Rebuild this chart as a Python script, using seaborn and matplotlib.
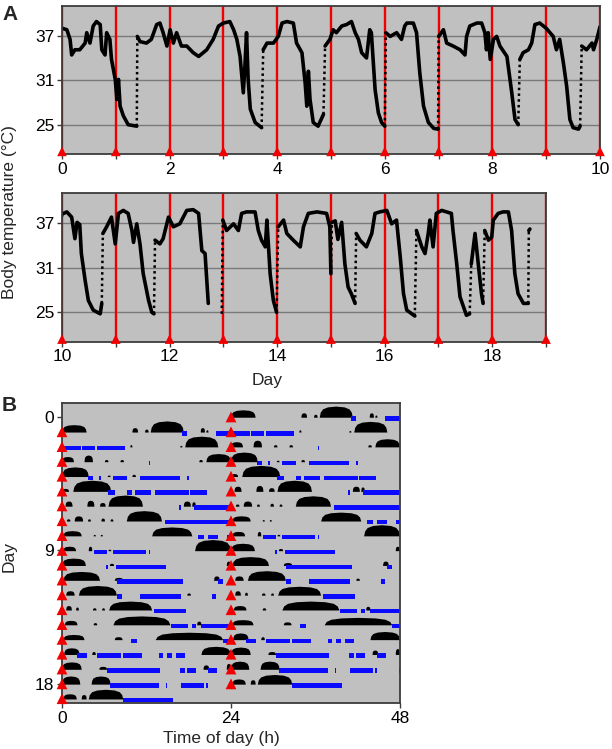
import numpy as np
import pandas as pd
import matplotlib
matplotlib.use("Agg")
import matplotlib.pyplot as plt
import seaborn as sns

# ---- panel A: body temperature trace (day, degC) ----
temp_day = [0.00, 0.09, 0.15, 0.18, 0.24, 0.33, 0.43, 0.46, 0.52, 0.58, 0.64, 0.71, 0.74, 0.80, 0.83, 0.89,
            0.92, 0.99, 1.02, 1.05, 1.08, 1.14, 1.23, 1.39, 1.40,
            1.45, 1.57, 1.66, 1.76, 1.82, 1.88, 1.95, 2.01, 2.07, 2.13, 2.22, 2.32, 2.44, 2.54, 2.69, 2.81,
            2.91, 3.00, 3.12, 3.19, 3.25, 3.31, 3.37, 3.40, 3.43, 3.46, 3.50, 3.59, 3.71, 3.74,
            3.81, 3.93, 4.02, 4.09, 4.18, 4.30, 4.36, 4.46, 4.52, 4.55, 4.58, 4.61, 4.67, 4.76, 4.86, 4.89,
            4.98, 5.04, 5.10, 5.20, 5.29, 5.38, 5.45, 5.51, 5.57, 5.66, 5.72, 5.75, 5.82, 5.88, 5.94, 6.00, 6.02,
            6.10, 6.22, 6.31, 6.37, 6.41, 6.53, 6.59, 6.65, 6.72, 6.81, 6.91, 6.99, 7.00,
            7.09, 7.15, 7.27, 7.40, 7.49, 7.52, 7.58, 7.71, 7.80, 7.86, 7.89, 7.92, 7.96, 8.02, 8.08, 8.14,
            8.27, 8.36, 8.42, 8.48, 8.51,
            8.57, 8.67, 8.73, 8.79, 8.88, 9.00, 9.13, 9.19, 9.25, 9.32, 9.38, 9.44, 9.50, 9.60, 9.63, 9.66,
            9.75, 9.85, 9.88, 9.94, 10.00,
            10.09, 10.18, 10.24, 10.28, 10.33, 10.36, 10.43, 10.49, 10.58, 10.71, 10.74, 10.76,
            10.83, 10.92, 10.99, 11.05, 11.14, 11.23, 11.30, 11.33, 11.39, 11.45, 11.51, 11.61, 11.67, 11.71, 11.73,
            11.82, 11.88, 11.98, 12.07, 12.19, 12.32, 12.44, 12.54, 12.60, 12.66, 12.72, 12.85, 12.97, 12.99,
            13.06, 13.19, 13.28, 13.34, 13.43, 13.59, 13.65, 13.71, 13.78, 13.81, 13.87, 13.93, 13.99, 14.02,
            14.12, 14.18, 14.30, 14.43, 14.49, 14.58, 14.74, 14.92, 14.98, 15.00, 15.02, 15.08, 15.13, 15.20,
            15.26, 15.32, 15.38, 15.45, 15.47,
            15.54, 15.66, 15.76, 15.82, 15.91, 16.04, 16.13, 16.22, 16.29, 16.35, 16.41, 16.56, 16.59,
            16.69, 16.75, 16.81, 16.84, 16.90, 16.96, 17.06, 17.15, 17.24, 17.27, 17.34, 17.40, 17.52, 17.58,
            17.61, 17.68, 17.74, 17.80, 17.83, 17.86,
            17.93, 17.99, 18.02, 18.11, 18.20, 18.30, 18.36, 18.42, 18.48, 18.58, 18.67, 18.68, 18.70]
temp_c = [38.0, 37.8, 36.5, 34.4, 35.1, 35.1, 36.0, 37.4, 36.0, 38.3, 38.9, 38.5, 35.1, 34.4, 37.4, 36.5,
          33.8, 31.1, 28.4, 31.1, 27.5, 26.2, 25.0, 24.8, 36.9,
          36.2, 36.0, 36.5, 38.5, 38.7, 37.4, 35.6, 37.8, 36.0, 37.4, 35.6, 35.6, 34.7, 34.2, 35.1, 36.5,
          38.3, 38.7, 38.9, 37.8, 36.5, 34.2, 29.3, 32.9, 37.4, 31.1, 27.1, 25.3, 24.6, 35.1,
          36.0, 36.0, 36.9, 38.7, 38.9, 38.7, 36.0, 34.7, 30.6, 27.5, 32.2, 28.4, 25.3, 24.8, 26.4, 35.6,
          36.5, 37.8, 37.4, 38.3, 38.5, 38.9, 37.4, 36.5, 34.7, 34.0, 37.8, 37.4, 29.7, 26.6, 25.3, 24.8, 37.4,
          36.9, 37.4, 36.5, 38.3, 38.7, 38.7, 37.4, 32.0, 27.5, 25.3, 24.5, 24.4, 36.9,
          37.8, 36.0, 35.6, 35.1, 34.4, 36.9, 38.3, 38.7, 38.7, 37.4, 35.1, 37.4, 33.8, 36.5, 36.9, 35.6,
          34.2, 29.3, 25.7, 25.0, 33.8,
          34.7, 35.1, 36.0, 38.5, 38.7, 38.0, 36.9, 35.1, 36.5, 33.3, 30.2, 25.7, 24.6, 24.4, 24.8, 35.6,
          35.1, 36.0, 35.1, 36.5, 38.2,
          38.5, 37.8, 34.9, 37.1, 36.8, 32.9, 29.3, 26.6, 25.3, 24.8, 26.2, 35.6,
          36.5, 37.8, 34.2, 38.3, 38.7, 38.3, 36.0, 34.4, 36.9, 34.2, 30.2, 26.6, 25.0, 24.8, 34.7,
          34.2, 34.9, 37.8, 36.5, 36.9, 38.7, 38.8, 38.3, 33.3, 32.9, 26.2, np.nan, 24.8, 37.4,
          36.0, 36.9, 36.0, 38.3, 38.5, 38.5, 36.0, 34.7, 33.8, 37.4, 30.2, 26.6, 25.0, 36.5,
          37.4, 35.6, 34.7, 33.8, 36.5, 38.3, 38.5, 38.3, 36.5, 30.2, 37.1, 37.3, 34.8, 37.1,
          31.5, 28.4, 27.5, 26.2, 35.6,
          34.7, 33.8, 35.6, 38.3, 38.5, 38.7, 36.9, 37.4, 32.4, 27.5, 25.3, 24.5, 36.0,
          33.8, 32.9, 35.6, 37.4, 33.8, 38.3, 38.7, 38.5, 38.3, 36.0, 31.5, 27.1, 24.6, 24.8,
          31.5, 35.6, 31.5, 27.5, 26.2, 36.0,
          34.7, 35.1, 37.4, 38.3, 38.5, 38.5, 36.0, 30.2, 27.5, 26.2, 26.2, 36.0, 36.2]
temp_ticks = [25, 31, 37]

# ---- panel B: activity bouts (day, start h, end h, relative height) ----
act_day = [0, 0, 0, 0, 0, 0,
           1, 1, 1,
           2, 2, 2, 2, 2, 2,
           3, 3, 3,
           4, 4,
           5, 5, 5, 5, 5, 5,
           6, 6, 6, 6, 6, 6,
           7, 7, 7, 7,
           8, 8, 8, 8,
           9, 9, 9,
           10, 10, 10,
           11, 11, 11,
           12, 12, 12, 12, 12,
           13, 13, 13, 13,
           14, 14, 14,
           15, 15, 15,
           16, 16, 16, 16,
           17, 17,
           18, 18, 18]
act_start = [0.0, 10.0, 11.8, 12.6, 19.7, 20.5,
             9.7, 16.8, 17.5,
             0.0, 3.2, 6.1, 8.3, 19.5, 20.5,
             0.0, 6.5, 10.0,
             0.0, 1.6,
             0.5, 3.6, 5.4, 6.6, 17.3, 18.5,
             0.7, 1.8, 3.7, 5.6, 6.9, 9.2,
             0.2, 4.5, 5.5, 12.8,
             0.2, 3.8, 6.6, 18.9,
             0.0, 6.8, 23.4,
             0.2, 7.5, 21.6,
             0.6, 2.4, 17.8,
             0.6, 2.0, 4.4, 5.7, 6.7,
             0.4, 4.5, 7.3, 19.2,
             0.2, 7.5, 13.3,
             0.3, 4.3, 19.8,
             0.0, 5.3, 20.1, 23.4,
             0.0, 4.2,
             0.2, 2.8, 3.8]
act_end = [3.5, 10.8, 12.3, 17.3, 20.3, 20.8,
           10.0, 17.1, 22.2,
           1.7, 4.4, 6.6, 8.8, 20.0, 24.0,
           3.8, 6.9, 10.5,
           1.0, 7.0,
           1.5, 4.6, 6.2, 11.5, 18.3, 19.0,
           1.2, 3.0, 4.1, 6.1, 7.3, 14.2,
           2.8, 4.8, 5.8, 18.5,
           2.0, 4.3, 7.0, 24.0,
           3.4, 7.4, 24.0,
           5.4, 8.7, 22.4,
           1.8, 7.8, 18.3,
           1.4, 2.4, 4.9, 6.1, 12.8,
           2.2, 5.0, 15.4, 19.8,
           3.2, 8.6, 22.9,
           2.5, 4.8, 24.0,
           2.8, 6.4, 20.9, 24.0,
           2.6, 6.9,
           2.1, 3.5, 8.7]
act_height = [0.5, 0.3, 0.2, 0.75, 0.3, 0.15,
              0.15, 0.1, 0.72,
              0.35, 0.45, 0.15, 0.15, 0.15, 0.55,
              0.65, 0.1, 0.15,
              0.2, 0.75,
              0.35, 0.4, 0.25, 0.75, 0.35, 0.3,
              0.15, 0.35, 0.15, 0.2, 0.15, 0.7,
              0.35, 0.1, 0.1, 0.6,
              0.3, 0.3, 0.1, 0.75,
              0.5, 0.15, 0.3,
              0.6, 0.2, 0.3,
              0.3, 0.65, 0.15,
              0.3, 0.2, 0.15, 0.15, 0.6,
              0.3, 0.15, 0.6, 0.25,
              0.35, 0.2, 0.5,
              0.45, 0.2, 0.55,
              0.5, 0.2, 0.3, 0.4,
              0.55, 0.55,
              0.35, 0.3, 0.65]

# ---- panel B: torpor bars (day, start h, end h) ----
torpor_day = [0, 0, 1, 1, 1, 2, 3, 3, 3, 3, 3, 4, 4, 4, 4, 4, 5, 5, 6, 7, 7, 7, 8, 8, 8, 9, 9,
              10, 10, 11, 11, 11, 12, 13, 13, 13, 14, 14, 15, 15, 15, 15, 15, 15,
              16, 16, 16, 16, 17, 17, 17, 17, 17, 18]
torpor_start = [17.0, 21.9, 0.0, 2.9, 4.9, 12.3, 3.7, 5.2, 7.2, 11.1, 17.8, 6.6, 9.2, 10.3, 13.2, 18.2,
                16.6, 18.8, 14.6, 19.3, 20.7, 23.4, 4.5, 7.2, 12.3, 6.2, 7.7,
                7.8, 22.2, 7.8, 11.1, 21.3, 13.0, 15.5, 18.5, 19.7, 9.8, 22.9, 2.1, 4.9, 8.7, 13.8, 14.9, 16.2,
                6.4, 16.8, 17.8, 20.8, 6.8, 14.7, 16.9, 20.5, 23.8, 8.6]
torpor_end = [17.7, 24.0, 2.7, 4.7, 8.9, 12.5, 4.4, 5.5, 9.3, 16.7, 18.1, 7.5, 10.0, 12.7, 18.0, 20.6,
              16.9, 24.0, 24.0, 20.1, 22.2, 24.0, 6.4, 11.9, 12.5, 6.5, 14.7,
              17.2, 22.8, 8.5, 16.9, 21.8, 17.6, 17.9, 19.0, 24.0, 10.7, 24.0, 3.5, 8.4, 11.3, 14.3, 15.6, 17.5,
              13.9, 17.5, 19.0, 22.0, 13.8, 14.9, 20.2, 20.7, 24.0, 15.7]
n_days = 19

GREY = '#c0c0c0'
RED = '#f00000'
BLUE = '#0a0aff'
DARK = '#3c3c3c'
FS = 12.5

sns.set_style("ticks")
plt.rcParams['font.family'] = ['Liberation Sans', 'DejaVu Sans']
plt.rcParams['axes.edgecolor'] = DARK
plt.rcParams['xtick.color'] = DARK
plt.rcParams['ytick.color'] = DARK
plt.rcParams['xtick.labelcolor'] = 'black'
plt.rcParams['ytick.labelcolor'] = 'black'

fig = plt.figure(figsize=(6.12, 7.49), dpi=100)
ax1 = fig.add_axes([0.1013, 0.7944, 0.8791, 0.1976])
ax2 = fig.add_axes([0.1013, 0.5438, 0.7909, 0.1981])
ax3 = fig.add_axes([0.1013, 0.0614, 0.5523, 0.4005])

# temperature trace split into solid runs and dotted rewarming jumps
df = pd.DataFrame({'day': temp_day, 'temp': temp_c})
jump = df['temp'].diff() > 6
new_seg = jump | df['temp'].shift().isna()
df['seg'] = new_seg.cumsum()
solid = df.dropna()

ymin, ymax = 21.05, 41.0
for ax, d0, d1 in [(ax1, 0, 10), (ax2, 10, 19)]:
    ax.set_facecolor(GREY)
    for t in temp_ticks:
        ax.axhline(t, color='#7a7a7a', lw=1.0, zorder=1)
    for d in range(d0, d1 + 1):
        ax.axvline(d, color=RED, lw=1.7, zorder=2)
    sns.lineplot(data=solid, x='day', y='temp', units='seg', estimator=None, sort=False,
                 color='black', linewidth=2.6, ax=ax, legend=False, zorder=3)
    for i in np.where(jump)[0]:
        ax.plot(df['day'].iloc[i - 1:i + 1], df['temp'].iloc[i - 1:i + 1], color='black',
                lw=1.8, ls=(0, (1, 1.3)), zorder=3)
    days = list(range(d0, d1 + 1))
    sns.scatterplot(x=days, y=[ymin + 0.35] * len(days), marker='^', s=48, color=RED,
                    edgecolor='none', ax=ax, zorder=5, clip_on=False, legend=False)
    ax.set_xlim(d0, d1 if d1 == 10 else 19)
    ax.set_ylim(ymin, ymax)
    ax.set_xticks(days)
    ax.set_xticklabels([str(d) if d % 2 == 0 else '' for d in days])
    ax.set_yticks(temp_ticks)
    ax.set_xlabel('')
    ax.set_ylabel('')
    ax.tick_params(labelsize=FS, length=3.5, width=1.0, pad=2)
    for s in ax.spines.values():
        s.set_linewidth(1.3)
        s.set_zorder(4)

# double-plotted actogram
ax3.set_facecolor(GREY)
frac_x = np.array([0, .03, .1, .25, .5, .75, .9, .97, 1])
frac_y = np.array([0, .45, .75, .93, 1, .93, .75, .45, 0])
for d, a, b, h in zip(act_day, act_start, act_end, act_height):
    for row, off in [(d + 1, 0), (d, 24)]:
        xs = off + a + (b - a) * frac_x
        ys = row + 0.05 - h * frac_y
        ax3.fill(xs, ys, color='black', lw=0, zorder=2)
for d, a, b in zip(torpor_day, torpor_start, torpor_end):
    for row, off in [(d + 1, 0), (d, 24)]:
        ax3.barh(row + 0.1, b - a, left=off + a, height=0.3, color=BLUE, lw=0, zorder=3)

tri_x = [0] * n_days + [24] * n_days
tri_y = list(range(1, n_days + 1)) + list(range(0, n_days))
sns.scatterplot(x=tri_x, y=tri_y, marker='^', s=60, color=RED, edgecolor='none',
                ax=ax3, zorder=5, clip_on=False, legend=False)
ax3.set_xlim(0, 48)
ax3.set_ylim(19.29, -0.94)
ax3.set_xticks([0, 24, 48])
ax3.set_yticks([0, 9, 18])
ax3.tick_params(labelsize=FS, length=3.5, width=1.0, pad=2)
for s in ax3.spines.values():
    s.set_linewidth(1.3)
    s.set_zorder(4)

W, H = 612, 749
fig.text(10 / W, 1 - 14 / H, 'A', fontsize=15, fontweight='bold', ha='center', va='center')
fig.text(9 / W, 1 - 405 / H, 'B', fontsize=15, fontweight='bold', ha='center', va='center')
fig.text(10 / W, 1 - 212 / H, 'Body temperature (°C)', fontsize=FS, rotation=90, ha='center', va='center')
fig.text(267 / W, 1 - 381 / H, 'Day', fontsize=FS, ha='center', va='center')
fig.text(9 / W, 1 - 556 / H, 'Day', fontsize=FS, rotation=90, ha='center', va='center')
fig.text(221 / W, 1 - 738 / H, 'Time of day (h)', fontsize=FS, ha='center', va='center')

fig.savefig('out.png', dpi=100)
